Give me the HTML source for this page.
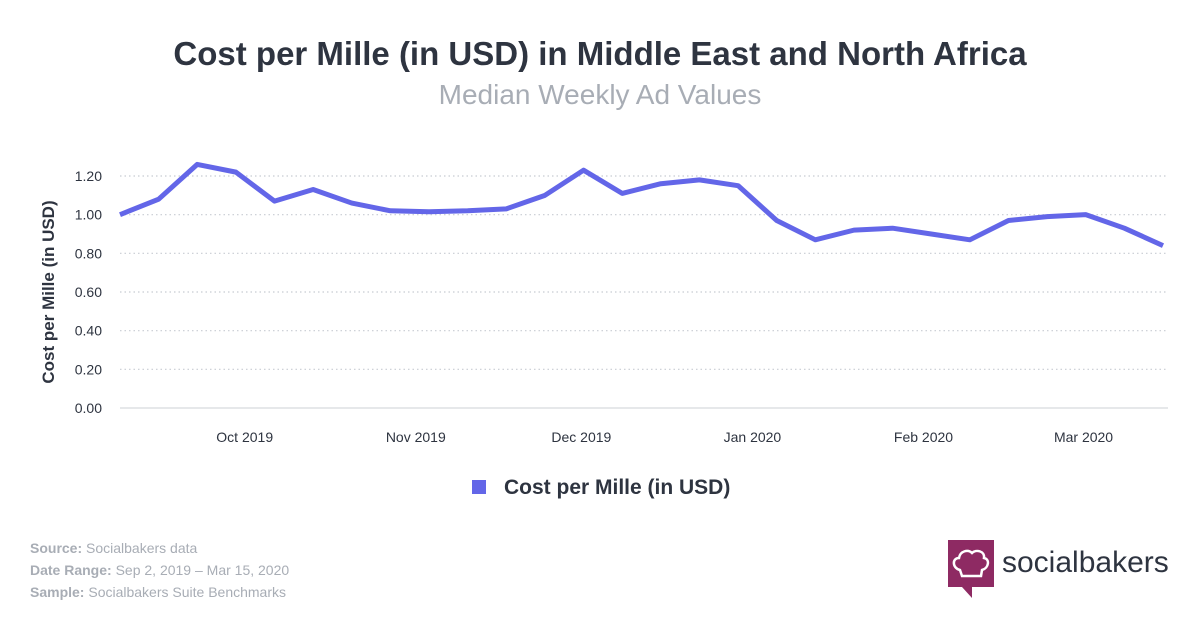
<!DOCTYPE html>
<html><head><meta charset="utf-8"><style>
body{margin:0;width:1200px;height:630px;background:#fff;font-family:"Liberation Sans",sans-serif;overflow:hidden;position:relative}
.t{position:absolute;left:0;width:1200px;text-align:center}
.src{position:absolute;left:30px;font-size:14px;color:#a8adb5}
.src b{font-weight:bold}
</style></head><body>
<div class="t" style="top:35px;font-size:33px;font-weight:bold;color:#2e3440">Cost per Mille (in USD) in Middle East and North Africa</div>
<div class="t" style="top:79px;font-size:28px;color:#a8adb5">Median Weekly Ad Values</div>
<svg id="chart" width="1200" height="520" style="position:absolute;left:0;top:0"></svg>
<div class="src" style="top:540px"><b>Source:</b> Socialbakers data</div>
<div class="src" style="top:562px"><b>Date Range:</b> Sep 2, 2019 – Mar 15, 2020</div>
<div class="src" style="top:584px"><b>Sample:</b> Socialbakers Suite Benchmarks</div>
<svg width="240" height="70" style="position:absolute;left:946px;top:538px">
<path d="M2 2H48V49H26V60L16 49H2Z" fill="#8e2a63"/>
<path d="M14 32 C6 30 6 20 13 20 C14 13 22 11 26 15 C30 11 39 13 38 20 C44 21 43 30 36 32 L35 38 H16 Z" fill="none" stroke="#fff" stroke-width="2.5"/>
<text x="56" y="34" font-family="Liberation Sans,sans-serif" font-size="30" fill="#2e3440">socialbakers</text>
</svg>
<script>
const values=[1.00,1.08,1.26,1.22,1.07,1.13,1.06,1.02,1.015,1.02,1.03,1.10,1.23,1.11,1.16,1.18,1.15,0.97,0.87,0.92,0.93,0.90,0.87,0.97,0.99,1.00,0.93,0.84];
const yTicks=[0,0.2,0.4,0.6,0.8,1.0,1.2];
const monthLabels=["Oct 2019","Nov 2019","Dec 2019","Jan 2020","Feb 2020","Mar 2020"];
const monthDays=[22.6,53.6,83.6,114.6,145.6,174.6];
const NS="http://www.w3.org/2000/svg";
const svg=document.getElementById('chart');
const x0=120,x1=1163,y0=408,yTop=176;
const n=values.length;
const xi=i=>x0+i*(x1-x0)/(n-1);
const xd=d=>x0+d*(x1-x0)/((n-1)*7);
const y=v=>y0-v*(y0-yTop)/1.2;
function el(t,a){const e=document.createElementNS(NS,t);for(const k in a)e.setAttribute(k,a[k]);svg.appendChild(e);return e;}
yTicks.forEach(v=>{
  const g=el('line',{x1:x0,x2:1168,y1:y(v),y2:y(v),stroke:v===0?'#ccd0d6':'#c8ccd2','stroke-width':v===0?1:1.2,'stroke-dasharray':v===0?'':'1.5 3'});
  
  
  const t=el('text',{x:102,y:y(v)+5,'text-anchor':'end','font-size':14,fill:'#2e3440'});
  t.textContent=v.toFixed(2);
  
  
});
monthLabels.forEach((m,i)=>{
  const t=el('text',{x:xd(monthDays[i]),y:442,'text-anchor':'middle','font-size':14,fill:'#2e3440'});
  t.textContent=m;
  
  
});
const yt=el('text',{transform:'translate(54,292) rotate(-90)','text-anchor':'middle','font-size':17,'font-weight':'bold',fill:'#2e3440'});
yt.textContent='Cost per Mille (in USD)';


const p=el('polyline',{points:values.map((v,i)=>xi(i)+','+y(v)).join(' '),fill:'none',stroke:'#6366e8','stroke-width':5,'stroke-linejoin':'round'});


const lr=el('rect',{x:472,y:480,width:14,height:14,fill:'#6366e8'});


const lt=el('text',{x:504,y:494,'font-size':21,'font-weight':'bold',fill:'#2e3440'});
lt.textContent='Cost per Mille (in USD)';


</script>
</body></html>
